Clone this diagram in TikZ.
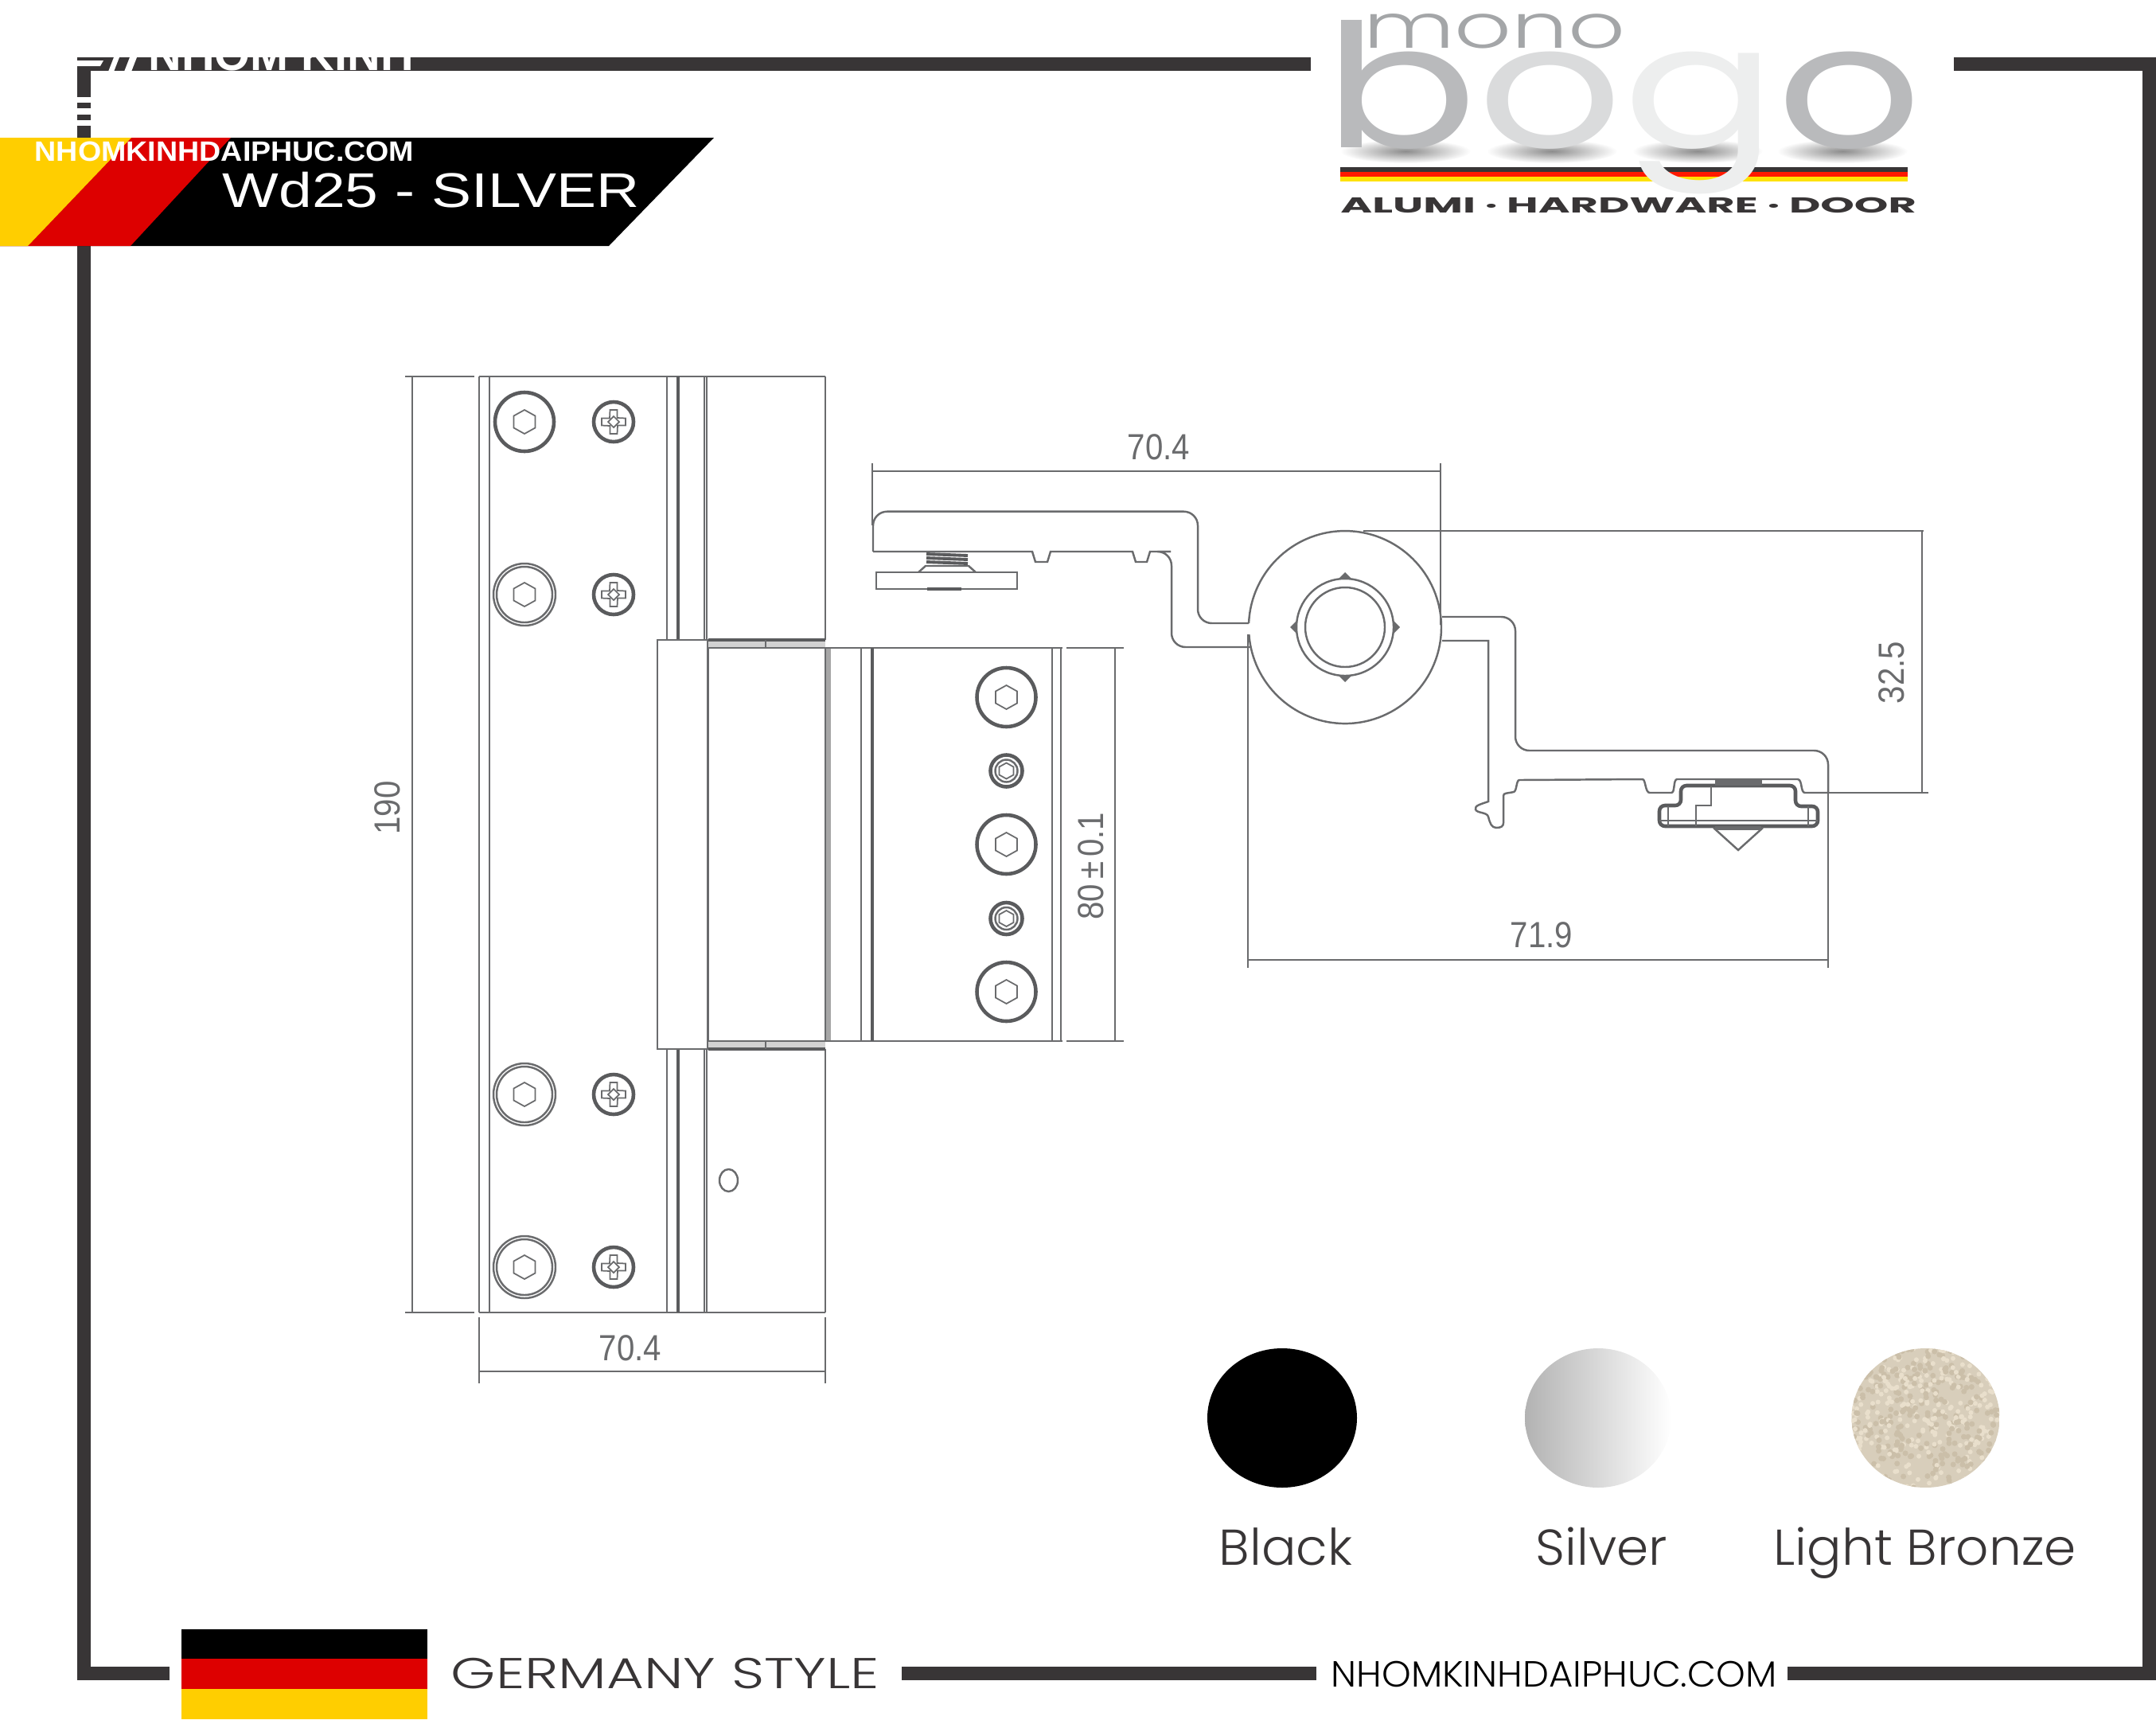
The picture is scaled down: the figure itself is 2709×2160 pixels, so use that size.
\documentclass[tikz,border=0pt]{standalone}
\usepackage{fontspec}
\setmainfont{Liberation Sans}
\newfontfamily\geofont{Poppins Light}
\newfontfamily\logofont{Poppins}
\definecolor{framegray}{HTML}{383536}
\definecolor{linegray}{HTML}{6A6B6D}
\definecolor{flagred}{HTML}{DD0000}
\definecolor{flaggold}{HTML}{FFCE00}
\definecolor{logogray}{HTML}{B9BABC}
\definecolor{logolite}{HTML}{DADBDC}
\definecolor{logowhite}{HTML}{EDEEEE}
\definecolor{logomid}{HTML}{A4A6A8}
\definecolor{bronzebase}{HTML}{D8CEBB}
\definecolor{bronzelite}{HTML}{E9DFCC}
\definecolor{bronzedark}{HTML}{CBBFA9}
\tikzset{
  framebar/.style={fill=framegray},
  hingeline/.style={draw=linegray,line width=.7pt},
  heavyline/.style={draw=linegray!85!black,line width=1.3pt},
  dimtext/.style={text=linegray,inner sep=0pt,xscale=.88,font=\fontsize{13}{15}\selectfont},
  swatchtext/.style={text=framegray,inner sep=0pt,anchor=base west,xscale=1.02,font=\geofont\fontsize{18}{20}\selectfont},
  hexbolt/.pic={
    \draw[heavyline] (0,0) circle [radius=37];
    \draw[hingeline,line width=.5pt] (0,-15) -- (13.5,-7.5) -- (13.5,7.5) -- (0,15) -- (-13.5,7.5) -- (-13.5,-7.5) -- cycle;
  },
  hexboltb/.pic={
    \draw[hingeline] (0,0) circle [radius=39];
    \draw[hingeline] (0,0) circle [radius=35];
    \draw[hingeline,line width=.5pt] (0,-15) -- (13.5,-7.5) -- (13.5,7.5) -- (0,15) -- (-13.5,7.5) -- (-13.5,-7.5) -- cycle;
  },
  hexsmall/.pic={
    \draw[heavyline] (0,0) circle [radius=20];
    \draw[hingeline] (0,0) circle [radius=14];
    \draw[hingeline,line width=.5pt] (0,-10) -- (9,-5) -- (9,5) -- (0,10) -- (-9,5) -- (-9,-5) -- cycle;
  },
  crossscrew/.pic={
    \draw[heavyline] (0,0) circle [radius=25];
    \draw[hingeline,line width=.5pt] (-4.5,-15) -- (4.5,-15) -- (4.5,-5) -- (15,-4.5) -- (15,4.5) -- (5,4.5) -- (4.5,15) -- (-4.5,15) -- (-4.5,5) -- (-15,4.5) -- (-15,-4.5) -- (-5,-4.5) -- cycle;
    \draw[hingeline,line width=.5pt,fill=white] (0,-7) -- (7,0) -- (0,7) -- (-7,0) -- cycle;
  }
}
\begin{document}
\begin{tikzpicture}[x=0.01cm,y=-0.01cm]
  \useasboundingbox (0,0) rectangle (2709,2160);
  % frame
  \fill[framebar] (97,72) rectangle (1647,89);
  \fill[framebar] (2455,72) rectangle (2709,89);
  \fill[framebar] (2692,72) rectangle (2709,2111);
  \fill[framebar] (2246,2094) rectangle (2709,2111);
  \fill[framebar] (1133,2094) rectangle (1654,2111);
  \fill[framebar] (97,2094) rectangle (213,2111);
  \fill[framebar] (97,72) rectangle (114,122);
  \fill[framebar] (97,129) rectangle (114,136);
  \fill[framebar] (97,144) rectangle (114,151);
  \fill[framebar] (97,158) rectangle (114,2111);
  % white mark over the frame
  \fill[white] (97,76) -- (130,76) -- (126,83) -- (97,83) -- cycle;
  \fill[white] (143,72) -- (150,72) -- (143,90) -- (136,90) -- cycle;
  \fill[white] (163,72) -- (172,72) -- (165,90) -- (156,90) -- cycle;
  \node[text=white,inner sep=0pt,anchor=base west,font=\bfseries\fontsize{16.4}{18}\selectfont] (markname) at (186,88) {NHOM KINH};
  % banner
  \fill[black] (0,173) -- (897,173) -- (765,309) -- (0,309) -- cycle;
  \fill[flagred] (0,173) -- (290,173) -- (164,309) -- (0,309) -- cycle;
  \fill[flaggold] (0,173) -- (165,173) -- (35,309) -- (0,309) -- cycle;
  \node[text=white,inner sep=0pt,anchor=base west,xscale=1.07,font=\bfseries\fontsize{10}{12}\selectfont] (bannersite) at (43,202) {NHOMKINHDAIPHUC.COM};
  \node[text=white,inner sep=0pt,anchor=base west,xscale=1.225,font=\fontsize{17.4}{20}\selectfont] (bannertitle) at (279,260) {Wd25 - SILVER};
  % logo
  \foreach \cx in {1766,1950,2133,2315}
    \shade[inner color=black!45,outer color=white] (\cx,190) ellipse [x radius=82,y radius=15];
  \fill[framegray] (1684,210) rectangle (2397,216);
  \fill[red!80!orange] (1684,216) rectangle (2397,222);
  \fill[yellow!85!orange] (1684,222) rectangle (2397,228);
  \node[text=logomid,inner sep=0pt,anchor=base west,xscale=1.45,font=\geofont\fontsize{22}{24}\selectfont] (logomono) at (1712,60) {mono};
  \node[inner sep=0pt,anchor=base west,xscale=1.32,font=\logofont\fontsize{61.5}{64}\selectfont] (logobogo) at (1663,185)
    {\textcolor{logogray}{b}\textcolor{logolite}{o}\textcolor{logowhite}{g}\textcolor{logogray}{o}};
  \node[text=framegray,inner sep=0pt,anchor=base west,xscale=2,font=\logofont\bfseries\fontsize{7.7}{9}\selectfont] (logotag) at (1683,267) {ALUMI · HARDWARE · DOOR};
  % left leaf
  \draw[hingeline] (509,473) -- (596,473);
  \draw[hingeline] (602,473) -- (1037,473);
  \draw[hingeline] (509,1649) -- (596,1649);
  \draw[hingeline] (602,1649) -- (1037,1649);
  \draw[hingeline] (518,473) -- (518,1649);
  \draw[hingeline] (602,473) -- (602,1649);
  \draw[hingeline] (615,473) -- (615,1649);
  \foreach \lx in {838,885,888,1037} {
    \draw[hingeline] (\lx,473) -- (\lx,804);
    \draw[hingeline] (\lx,1318) -- (\lx,1649);
  }
  \draw[heavyline] (852,473) -- (852,804);
  \draw[heavyline] (852,1318) -- (852,1649);
  % knuckle
  \draw[hingeline] (826,804) rectangle (889,1318);
  \draw[hingeline] (890,804) -- (890,1318);
  \fill[gray!35] (890,804) rectangle (1037,814);
  \fill[gray!35] (890,1308) rectangle (1037,1318);
  \draw[heavyline] (890,804) -- (1037,804);
  \draw[hingeline] (890,814) -- (1037,814);
  \draw[hingeline] (890,1308) -- (1037,1308);
  \draw[heavyline] (890,1318) -- (1037,1318);
  \draw[hingeline,line width=.4pt] (962,804) -- (962,814);
  \draw[hingeline,line width=.4pt] (962,1308) -- (962,1318);
  % right leaf
  \fill[gray!70] (1037,814) rectangle (1044,1308);
  \draw[hingeline] (1037,814) -- (1037,1308);
  \draw[hingeline] (1037,814) -- (1335,814);
  \draw[hingeline] (1037,1308) -- (1335,1308);
  \draw[hingeline] (1340,814) -- (1412,814);
  \draw[hingeline] (1340,1308) -- (1412,1308);
  \draw[hingeline] (1082,814) -- (1082,1308);
  \draw[heavyline] (1096,814) -- (1096,1308);
  \draw[hingeline] (1322,814) -- (1322,1308);
  \draw[hingeline] (1333,814) -- (1333,1308);
  \draw[hingeline] (1401,814) -- (1401,1308);
  % screws
  \pic at (659,530) {hexbolt};
  \pic at (659,747) {hexboltb};
  \pic at (659,1375) {hexboltb};
  \pic at (659,1592) {hexboltb};
  \foreach \sy in {530,747,1375,1592}
    \pic at (771,\sy) {crossscrew};
  \foreach \sy in {876,1061,1246}
    \pic at (1264.5,\sy) {hexbolt};
  \foreach \sy in {968.5,1154}
    \pic at (1264.5,\sy) {hexsmall};
  \draw[hingeline] (915.5,1483) ellipse [x radius=11.5,y radius=14];
  % upper profile
  \draw[hingeline,rounded corners=5pt] (1569,783) -- (1505,783) -- (1505,642.7) -- (1097,642.7) -- (1097,693);
  \draw[hingeline] (1097,693) -- (1297,693) -- (1301,706) -- (1316,706) -- (1320,693) -- (1423,693) -- (1427,706) -- (1441,706) -- (1445,693) -- (1471,693);
  \draw[hingeline,rounded corners=5pt] (1471,693) -- (1472,693) -- (1472,813) -- (1571,813);
  \draw[hingeline] (1101,719) rectangle (1278,740);
  \draw[hingeline] (1154,719) -- (1163,711) -- (1217,711) -- (1226,719);
  \foreach \cy in {696,701,706}
    \draw[heavyline,line width=1.1pt,rounded corners=2pt] (1164,\cy) -- (1216,\cy+2);
  \draw[heavyline] (1165,740) -- (1208,740);
  % hub
  \draw[hingeline] (1569.1,783) arc [start angle=182.4,end angle=535.7,radius=121];
  \draw[hingeline] (1690,788) circle [radius=61];
  \draw[hingeline] (1690,788) circle [radius=50];
  \fill[linegray] (1690,719) -- (1698,727) -- (1682,727) -- cycle;
  \fill[linegray] (1690,857) -- (1698,849) -- (1682,849) -- cycle;
  \fill[linegray] (1621,788) -- (1629,780) -- (1629,796) -- cycle;
  \fill[linegray] (1759,788) -- (1751,780) -- (1751,796) -- cycle;
  % lower profile
  \draw[hingeline,rounded corners=5pt] (1812,775) -- (1904,775) -- (1904,943) -- (2297,943) -- (2297,996);
  \draw[hingeline] (1812,805) -- (1870,805) -- (1870,1007) .. controls (1862,1010) and (1852,1012) .. (1854,1017) .. controls (1856,1022) and (1868,1020) .. (1870,1026) .. controls (1872,1034) and (1874,1040) .. (1880,1040) .. controls (1886,1040) and (1889,1038) .. (1889,1034) -- (1889,1000) .. controls (1889,996) and (1893,997) .. (1902,995) .. controls (1906,994) and (1905,980) .. (1909,980) -- (2064,979) .. controls (2068,980) and (2067,996) .. (2073,996) -- (2100,996) .. controls (2105,996) and (2102,980) .. (2107,979) -- (2259,979) .. controls (2265,980) and (2262,996) .. (2268,996) -- (2297,996);
  \draw[heavyline,rounded corners=2pt] (2112,1012) -- (2112,987) -- (2256,987) -- (2256,1013) -- (2284,1013) -- (2284,1038) -- (2085,1038) -- (2085,1012) -- cycle;
  \draw[hingeline,line width=.5pt] (2085,1031) -- (2284,1031);
  \draw[hingeline,line width=.5pt] (2096,1013) -- (2096,1038);
  \draw[hingeline,line width=.5pt] (2272,1013) -- (2272,1038);
  \draw[hingeline] (2150,988) -- (2150,1012) -- (2131,1012) -- (2131,1038);
  \fill[linegray] (2155,980) rectangle (2214,987);
  \fill[linegray] (2155,1038) rectangle (2213,1043);
  \draw[hingeline] (2153,1040) -- (2184,1068) -- (2215,1040);
  % dimensions
  \draw[hingeline] (1096,582) -- (1096,660);
  \draw[hingeline] (1096,592) -- (1810,592);
  \draw[hingeline] (1810,582) -- (1810,785);
  \draw[hingeline] (1713,667) -- (2417,667);
  \draw[hingeline] (2415,667) -- (2415,996);
  \draw[hingeline] (2297,996) -- (2423,996);
  \draw[hingeline] (1568,797) -- (1568,1216);
  \draw[hingeline] (2297,996) -- (2297,1216);
  \draw[hingeline] (1568,1206) -- (2297,1206);
  \draw[hingeline] (602,1655) -- (602,1738);
  \draw[hingeline] (1037,1655) -- (1037,1738);
  \draw[hingeline] (602,1723) -- (1037,1723);
  \node[dimtext] (dimtop) at (1456,562) {70.4};
  \node[dimtext] (dimright) at (1937,1175) {71.9};
  \node[rotate=90,dimtext] (dimhub) at (2377,845) {32.5};
  \node[rotate=90,dimtext] (dimleaf) at (1371,1088) {\spaceskip=.15em 80 ± 0.1};
  \node[rotate=90,dimtext] (dimheight) at (487,1015) {190};
  \node[dimtext] (dimwidth) at (792,1694) {70.4};
  % colours
  \fill[black] (1611,1781.5) ellipse [x radius=94,y radius=87.5];
  \shade[left color=gray!60,right color=white] (2008,1781.5) ellipse [x radius=92,y radius=87.5];
  \begin{scope}
    \clip (2419.5,1781.5) ellipse [x radius=93,y radius=87.5];
    \fill[bronzebase] (2326,1694) rectangle (2513,1869);
    \pgfmathsetseed{11}
    \foreach \i in {1,...,300} {
      \pgfmathsetmacro{\dx}{2326+187*rnd}
      \pgfmathsetmacro{\dy}{1694+175*rnd}
      \fill[bronzedark] (\dx,\dy) circle [radius=3.5];
      \pgfmathsetmacro{\ex}{2326+187*rnd}
      \pgfmathsetmacro{\ey}{1694+175*rnd}
      \fill[bronzelite] (\ex,\ey) circle [radius=3];
    }
  \end{scope}
  \node[swatchtext] (nameblack) at (1531,1966) {Black};
  \node[swatchtext] (namesilver) at (1929,1966) {Silver};
  \node[swatchtext] (namebronze) at (2228,1966) {Light Bronze};
  % flag and footer
  \fill[black] (228,2047) rectangle (537,2084);
  \fill[flagred] (228,2084) rectangle (537,2122);
  \fill[flaggold] (228,2122) rectangle (537,2160);
  \node[text=framegray,inner sep=0pt,anchor=base west,xscale=1.33,font=\geofont\fontsize{15.4}{17}\selectfont] (footstyle) at (566,2121) {GERMANY STYLE};
  \node[text=black,inner sep=0pt,anchor=base west,xscale=1.02,font=\geofont\fontsize{13}{15}\selectfont] (footsite) at (1672,2119) {NHOMKINHDAIPHUC.COM};
\end{tikzpicture}
\end{document}
